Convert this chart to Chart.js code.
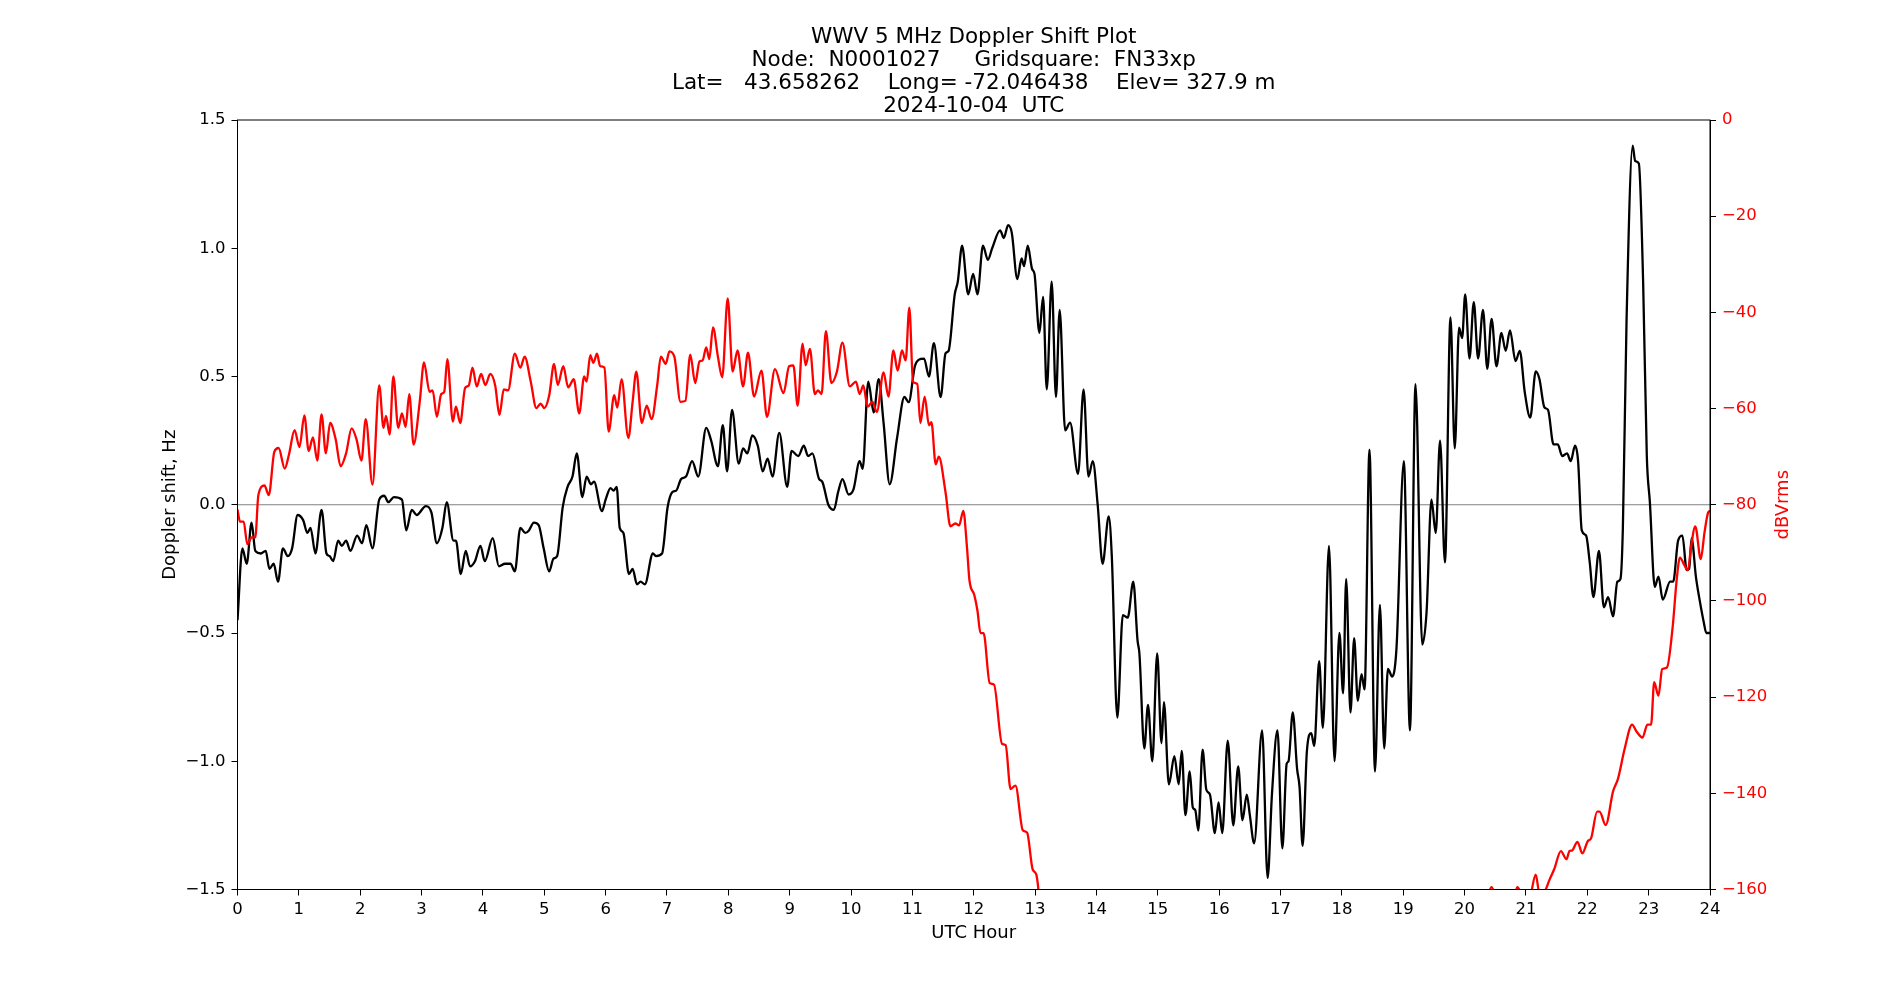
<!DOCTYPE html>
<html>
<head>
<meta charset="utf-8">
<title>WWV 5 MHz Doppler Shift Plot</title>
<script src="https://cdn.jsdelivr.net/npm/chart.js@4/dist/chart.umd.min.js"></script>
<style>
  html, body { margin: 0; padding: 0; background: #fff; }
  canvas { display: block; }
</style>
</head>
<body>
<canvas id="dopplerChart" width="1900" height="1000"></canvas>
<script>
// Title lines
const titleLines = [
    'WWV 5 MHz Doppler Shift Plot',
    'Node:  N0001027     Gridsquare:  FN33xp',
    'Lat=   43.658262    Long= -72.046438    Elev= 327.9 m',
    '2024-10-04  UTC'
];

// Doppler shift (Hz)
const dopHours = [
    0.00, 0.08, 0.15, 0.23, 0.29, 0.38, 0.46, 0.52, 0.59, 0.66, 0.74, 0.82, 0.89, 0.98,
    1.07, 1.14, 1.19, 1.27, 1.37, 1.45, 1.50, 1.56, 1.64, 1.70, 1.77, 1.84, 1.95,
    2.03, 2.10, 2.20, 2.31, 2.39, 2.46, 2.55, 2.68, 2.75, 2.84, 2.92,
    3.07, 3.16, 3.25, 3.34, 3.41, 3.52, 3.56, 3.64, 3.72, 3.79, 3.87, 3.96,
    4.03, 4.16, 4.26, 4.36, 4.45, 4.52, 4.61, 4.69, 4.75, 4.83, 4.91, 4.99,
    5.08, 5.15, 5.21, 5.30, 5.38, 5.46, 5.53, 5.62, 5.69, 5.76, 5.81, 5.94,
    6.00, 6.08, 6.13, 6.18, 6.23, 6.29, 6.38, 6.44, 6.51, 6.57, 6.64, 6.77, 6.82, 6.92,
    7.01, 7.09, 7.15, 7.23, 7.31, 7.41, 7.51, 7.64, 7.72, 7.83, 7.91, 7.98,
    8.06, 8.17, 8.24, 8.31, 8.39, 8.48, 8.56, 8.64, 8.72, 8.83, 8.96,
    9.03, 9.14, 9.23, 9.30, 9.37, 9.48, 9.53, 9.63, 9.72, 9.79, 9.86, 9.96,
    10.04, 10.14, 10.19, 10.28, 10.37, 10.45, 10.53, 10.63, 10.75, 10.87, 10.94,
    11.04, 11.10, 11.19, 11.27, 11.35, 11.46, 11.54, 11.59, 11.69, 11.74, 11.81, 11.91, 11.99,
    12.06, 12.15, 12.23, 12.30, 12.43, 12.49, 12.56, 12.62, 12.71, 12.78, 12.82, 12.88, 12.95, 12.99,
    13.07, 13.13, 13.19, 13.27, 13.34, 13.40, 13.49, 13.57, 13.70, 13.79, 13.87, 13.94,
    14.02, 14.10, 14.20, 14.25, 14.34, 14.43, 14.51, 14.60, 14.67, 14.70, 14.78, 14.84, 14.91, 14.99,
    15.06, 15.10, 15.18, 15.27, 15.34, 15.39, 15.45, 15.52, 15.57, 15.61, 15.66, 15.73, 15.79, 15.85, 15.93, 15.99,
    16.05, 16.14, 16.23, 16.31, 16.38, 16.45, 16.50, 16.57, 16.70, 16.79, 16.86, 16.95,
    17.03, 17.10, 17.13, 17.20, 17.27, 17.31, 17.36, 17.43, 17.50, 17.55, 17.63, 17.69, 17.79, 17.88, 17.96,
    18.02, 18.07, 18.14, 18.20, 18.26, 18.32, 18.37, 18.45, 18.54, 18.62, 18.69, 18.75, 18.82, 18.89,
    19.01, 19.11, 19.20, 19.31, 19.38, 19.46, 19.53, 19.60, 19.68, 19.77, 19.84, 19.91, 19.96,
    20.01, 20.08, 20.15, 20.22, 20.30, 20.37, 20.44, 20.52, 20.60, 20.67, 20.74, 20.83, 20.90, 20.98,
    21.07, 21.16, 21.22, 21.30, 21.36, 21.45, 21.52, 21.59, 21.67, 21.73, 21.80, 21.85, 21.91, 21.98,
    22.04, 22.10, 22.19, 22.27, 22.34, 22.42, 22.49, 22.54, 22.58, 22.64, 22.74, 22.78, 22.84, 22.91, 22.97,
    23.02, 23.10, 23.16, 23.23, 23.35, 23.40, 23.48, 23.55, 23.62, 23.66, 23.70, 23.77, 23.83, 23.90, 23.94, 24.00
];
const dopShift = [
    -0.45, -0.17, -0.23, -0.07, -0.18, -0.19, -0.18, -0.25, -0.23, -0.30, -0.17, -0.20, -0.17, -0.04,
    -0.06, -0.11, -0.09, -0.19, -0.02, -0.19, -0.20, -0.22, -0.14, -0.16, -0.14, -0.18, -0.12,
    -0.15, -0.08, -0.17, 0.02, 0.035, 0.01, 0.03, 0.02, -0.10, -0.02, -0.04,
    -0.005, -0.03, -0.15, -0.09, 0.01, -0.14, -0.14, -0.27, -0.18, -0.24, -0.22, -0.16,
    -0.22, -0.13, -0.24, -0.23, -0.23, -0.26, -0.09, -0.11, -0.10, -0.07, -0.08, -0.17,
    -0.26, -0.21, -0.20, -0.01, 0.07, 0.11, 0.20, 0.03, 0.11, 0.08, 0.09, -0.025,
    0.02, 0.065, 0.055, 0.07, -0.09, -0.11, -0.27, -0.25, -0.31, -0.30, -0.31, -0.19, -0.20, -0.19,
    -0.01, 0.05, 0.055, 0.10, 0.11, 0.17, 0.11, 0.30, 0.25, 0.15, 0.31, 0.13,
    0.37, 0.16, 0.22, 0.20, 0.27, 0.23, 0.13, 0.18, 0.11, 0.28, 0.07,
    0.21, 0.19, 0.23, 0.19, 0.20, 0.10, 0.09, 0.00, -0.02, 0.05, 0.10, 0.04,
    0.06, 0.17, 0.14, 0.48, 0.36, 0.49, 0.32, 0.08, 0.26, 0.42, 0.40,
    0.54, 0.565, 0.57, 0.50, 0.63, 0.42, 0.59, 0.60, 0.82, 0.87, 1.01, 0.82, 0.90,
    0.82, 1.01, 0.955, 1.00, 1.07, 1.04, 1.09, 1.06, 0.88, 0.96, 0.93, 1.01, 0.92, 0.90,
    0.67, 0.81, 0.45, 0.87, 0.42, 0.76, 0.29, 0.32, 0.12, 0.45, 0.11, 0.17,
    0.00, -0.23, -0.045, -0.20, -0.83, -0.43, -0.44, -0.30, -0.53, -0.58, -0.95, -0.78, -1.00, -0.58,
    -0.93, -0.77, -1.09, -0.98, -1.09, -0.96, -1.21, -1.04, -1.18, -1.19, -1.27, -0.955, -1.11, -1.13, -1.28, -1.16,
    -1.28, -0.92, -1.25, -1.02, -1.23, -1.13, -1.21, -1.32, -0.88, -1.455, -1.13, -0.88,
    -1.34, -1.01, -1.00, -0.81, -1.03, -1.10, -1.33, -0.96, -0.89, -0.94, -0.61, -0.87, -0.16, -1.00, -0.50,
    -0.735, -0.29, -0.81, -0.52, -0.765, -0.66, -0.72, 0.215, -1.04, -0.39, -0.95, -0.64, -0.67, -0.56,
    0.17, -0.88, 0.47, -0.545, -0.42, 0.02, -0.11, 0.25, -0.225, 0.73, 0.22, 0.69, 0.65,
    0.82, 0.57, 0.79, 0.57, 0.76, 0.53, 0.725, 0.54, 0.67, 0.60, 0.68, 0.56, 0.60, 0.44,
    0.34, 0.52, 0.49, 0.38, 0.37, 0.235, 0.235, 0.19, 0.20, 0.17, 0.23, 0.17, -0.10, -0.12,
    -0.225, -0.36, -0.18, -0.40, -0.36, -0.435, -0.30, -0.29, -0.09, 0.72, 1.40, 1.34, 1.33, 0.87, 0.19,
    0.01, -0.32, -0.28, -0.37, -0.30, -0.30, -0.14, -0.12, -0.255, -0.25, -0.13, -0.28, -0.37, -0.46, -0.50, -0.50
];

// Received power (dBVrms); values below -160 run off the bottom of the axes
const pwrHours = [
    0.00, 0.04, 0.10, 0.16, 0.23, 0.29, 0.34, 0.44, 0.51, 0.60, 0.67, 0.77, 0.84, 0.93,
    1.01, 1.09, 1.16, 1.23, 1.30, 1.37, 1.44, 1.51, 1.60, 1.68, 1.77, 1.86, 1.94,
    2.02, 2.09, 2.20, 2.31, 2.38, 2.42, 2.48, 2.54, 2.62, 2.68, 2.74, 2.80, 2.87, 2.97,
    3.04, 3.13, 3.18, 3.25, 3.32, 3.37, 3.42, 3.51, 3.56, 3.63, 3.71, 3.77, 3.83, 3.90, 3.97,
    4.04, 4.12, 4.20, 4.27, 4.34, 4.41, 4.52, 4.61, 4.68, 4.78, 4.87, 4.94,
    5.00, 5.08, 5.16, 5.22, 5.31, 5.39, 5.48, 5.57, 5.65, 5.69, 5.75, 5.80, 5.86, 5.91, 5.98,
    6.05, 6.14, 6.19, 6.26, 6.37, 6.44, 6.50, 6.59, 6.67, 6.75, 6.84, 6.90, 6.98,
    7.04, 7.12, 7.22, 7.30, 7.38, 7.46, 7.53, 7.58, 7.64, 7.69, 7.75, 7.83, 7.90, 7.99,
    8.07, 8.15, 8.24, 8.32, 8.42, 8.54, 8.63, 8.76, 8.90, 8.99,
    9.06, 9.13, 9.21, 9.26, 9.33, 9.41, 9.46, 9.52, 9.59, 9.68, 9.77, 9.86, 9.98,
    10.08, 10.14, 10.20, 10.27, 10.35, 10.42, 10.53, 10.61, 10.69, 10.76, 10.83, 10.89, 10.95,
    11.01, 11.08, 11.13, 11.20, 11.27, 11.31, 11.38, 11.43, 11.54, 11.62, 11.70, 11.76, 11.83, 11.89, 11.93,
    12.01, 12.06, 12.11, 12.16, 12.26, 12.33, 12.46, 12.52, 12.60, 12.68, 12.80, 12.87, 12.96,
    13.02, 13.15,
    20.30, 20.44, 20.55, 20.80, 20.86, 20.93,
    21.05, 21.16, 21.22, 21.30, 21.38, 21.46, 21.57, 21.66, 21.71, 21.75, 21.84, 21.92,
    22.01, 22.06, 22.16, 22.20, 22.30, 22.42, 22.50, 22.61, 22.73, 22.80, 22.90, 22.98,
    23.04, 23.09, 23.16, 23.22, 23.30, 23.39, 23.46, 23.51, 23.58, 23.64, 23.69, 23.76, 23.85, 23.91, 23.97, 24.00
];
const pwrLevel = [
    -81, -83.5, -83.5, -88.2, -86.8, -86.8, -78, -76, -78, -69, -68.2, -72.5, -69.5, -64.5,
    -68, -61.4, -68.8, -66, -70.8, -61.2, -69.3, -63, -66.4, -72, -69.3, -64.1, -66.4,
    -70.8, -62.2, -75.8, -55.2, -64, -61.5, -65.4, -53.3, -64, -61, -63.8, -57, -67.5, -58.6,
    -50.4, -56.5, -56.2, -61.7, -57, -56.5, -49.7, -62.7, -59.6, -63, -55.7, -55.2, -51.5, -55.4, -52.8,
    -55.1, -52.8, -55.2, -61.3, -56, -56.2, -48.6, -51.5, -49.2, -54.4, -59.9, -59,
    -59.9, -57.3, -50.7, -55.1, -51.2, -55.6, -53.9, -61, -53.3, -54.4, -48.9, -50.5, -48.6, -51.2, -51.5,
    -64.8, -57.2, -59.8, -53.9, -66.1, -58.6, -52.3, -63, -59.4, -62.2, -55.2, -49.2, -50.7,
    -48.1, -49.2, -58.6, -58.4, -48.8, -54.7, -50.2, -50, -47.3, -49.7, -43.1, -49.2, -53.5, -37.1,
    -52.3, -47.9, -55.4, -48.4, -57.5, -52.1, -61.7, -51.8, -56.8, -51.2,
    -51, -59.4, -46.5, -51, -47.6, -57, -56.2, -57, -43.9, -54.7, -52.3, -46.3, -55.4,
    -54.4, -57, -55.2, -59.6, -58.6, -60.7, -52.5, -57.5, -47.9, -52.1, -47.9, -50, -39,
    -54.4, -54.9, -63, -57.5, -63.5, -62.8, -71.6, -70, -77.4, -84.5, -83.9, -84.3, -81.3, -88.9, -95.7,
    -98.8, -102, -106.7, -106.7, -117.1, -117.4, -129.7, -130, -139.1, -138.4, -147.7, -148.2, -155.8,
    -156.9, -170,
    -166, -159.5, -163, -162, -159.5, -161,
    -162, -156.9, -160.8, -160.5, -158.1, -155.8, -152, -153.7, -152, -151.9, -150.1, -152.5,
    -149.9, -149.4, -143.8, -143.8, -146.6, -139.6, -137, -130.7, -125.7, -127.1, -128.4, -125.7,
    -125.7, -116.9, -119.7, -114.2, -113.8, -105.6, -95.2, -91, -92.5, -93.6, -88.9, -84.5, -91.3, -85.8, -81.6, -81.3
];

// Horizontal reference line at 0 Hz
const zeroHours = [0, 24];
const zeroShift = [0, 0];

// Pair up x/y arrays for a linear x scale
const toPoints = (xs, ys) => xs.map((x, i) => ({ x: x, y: ys[i] }));

// Matplotlib-style minus sign
const fmtMinus = (s) => s.replace('-', '\u2212');

document.addEventListener('DOMContentLoaded', () => {
    Chart.defaults.font.family = "'DejaVu Sans', sans-serif";
    Chart.defaults.color = '#000';

    // Draws the closed box around the plot area
    const framePlugin = {
        id: 'frame',
        afterDatasetsDraw(chart) {
            const { ctx, chartArea: a } = chart;
            ctx.save();
            ctx.strokeStyle = '#000';
            ctx.lineWidth = 1;
            ctx.strokeRect(a.left, a.top, a.right - a.left, a.bottom - a.top);
            ctx.restore();
        }
    };

    // Right axis label, reading bottom to top like the left one
    const rightLabelPlugin = {
        id: 'rightLabel',
        afterDraw(chart) {
            const { ctx, chartArea: a } = chart;
            ctx.save();
            ctx.translate(1783.5, (a.top + a.bottom) / 2);
            ctx.rotate(-Math.PI / 2);
            ctx.fillStyle = '#ff0000';
            ctx.font = "18px 'DejaVu Sans'";
            ctx.textAlign = 'center';
            ctx.textBaseline = 'middle';
            ctx.fillText('dBVrms', 0, 0);
            ctx.restore();
        }
    };

    const ctx = document.getElementById('dopplerChart').getContext('2d');
    const dopplerChart = new Chart(ctx, {
        type: 'line',
        data: {
            datasets: [{
                label: 'dBVrms',
                data: toPoints(pwrHours, pwrLevel),
                yAxisID: 'y2',
                borderColor: '#ff0000',
                borderWidth: 2.3,
                pointRadius: 0,
                cubicInterpolationMode: 'monotone',
                order: 0
            }, {
                label: 'Doppler shift',
                data: toPoints(dopHours, dopShift),
                yAxisID: 'y',
                borderColor: '#000000',
                borderWidth: 2.3,
                pointRadius: 0,
                cubicInterpolationMode: 'monotone',
                order: 1
            }, {
                label: 'zero',
                data: toPoints(zeroHours, zeroShift),
                yAxisID: 'y',
                borderColor: '#808080',
                borderWidth: 1.2,
                pointRadius: 0,
                order: 2
            }]
        },
        options: {
            responsive: false,
            devicePixelRatio: 1,
            animation: false,
            layout: {
                padding: { left: 47.5, right: 0, top: 0, bottom: 0 }
            },
            plugins: {
                legend: { display: false },
                tooltip: { enabled: false },
                title: {
                    display: true,
                    text: titleLines,
                    color: '#000',
                    font: { size: 21.5, weight: 'normal', lineHeight: '23px' },
                    padding: { top: 25.5, bottom: 2.5 }
                }
            },
            scales: {
                x: {
                    type: 'linear',
                    min: 0,
                    max: 24,
                    afterFit: (scale) => { scale.height = 110.5; },
                    ticks: {
                        stepSize: 1,
                        autoSkip: false,
                        maxRotation: 0,
                        padding: 4,
                        color: '#000',
                        font: { size: 16.5 }
                    },
                    grid: {
                        drawOnChartArea: false,
                        drawTicks: true,
                        tickLength: 6,
                        color: '#000'
                    },
                    border: { color: '#000', width: 1 },
                    title: {
                        display: true,
                        text: 'UTC Hour',
                        color: '#000',
                        font: { size: 18 },
                        padding: { top: 0, bottom: 56 }
                    }
                },
                y: {
                    position: 'left',
                    min: -1.5,
                    max: 1.5,
                    afterFit: (scale) => { scale.width = 190; },
                    ticks: {
                        stepSize: 0.5,
                        padding: 6,
                        color: '#000',
                        font: { size: 16.5 },
                        callback: (v) => fmtMinus(Number(v).toFixed(1))
                    },
                    grid: {
                        drawOnChartArea: false,
                        drawTicks: true,
                        tickLength: 6,
                        color: '#000'
                    },
                    border: { color: '#000', width: 1 },
                    title: {
                        display: true,
                        text: 'Doppler shift, Hz',
                        color: '#000',
                        font: { size: 18 },
                        padding: { top: 112, bottom: 0 }
                    }
                },
                y2: {
                    position: 'right',
                    min: -160,
                    max: 0,
                    afterFit: (scale) => { scale.width = 190; },
                    ticks: {
                        stepSize: 20,
                        padding: 6,
                        color: '#ff0000',
                        font: { size: 16.5 },
                        callback: (v) => fmtMinus(String(Math.round(v)))
                    },
                    grid: {
                        drawOnChartArea: false,
                        drawTicks: true,
                        tickLength: 6,
                        color: '#000'
                    },
                    border: { color: '#000', width: 1 }
                }
            }
        },
        plugins: [framePlugin, rightLabelPlugin]
    });
});
</script>
</body>
</html>
